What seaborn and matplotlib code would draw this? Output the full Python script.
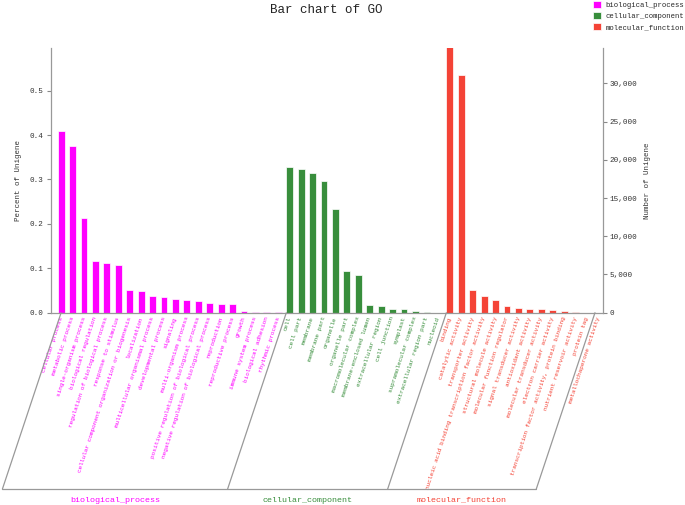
import matplotlib
matplotlib.use("Agg")
import matplotlib.pyplot as plt
import matplotlib.transforms as mtransforms
from matplotlib.ticker import FuncFormatter
import pandas as pd
import seaborn as sns

# GO terms and their share of unigenes
bp_terms = ["cellular process", "metabolic process", "single-organism process",
            "biological regulation", "regulation of biological process",
            "response to stimulus", "cellular component organization or biogenesis",
            "localization", "multicellular organismal process", "developmental process",
            "signaling", "multi-organism process",
            "positive regulation of biological process",
            "negative regulation of biological process", "reproduction",
            "reproductive process", "growth", "immune system process",
            "biological adhesion", "rhythmic process"]
bp_pct = [0.409, 0.375, 0.214, 0.117, 0.112, 0.107, 0.052, 0.0496, 0.038, 0.035,
          0.031, 0.029, 0.0256, 0.0218, 0.0188, 0.0188, 0.0038, 0.0023, 0.0009, 0.0005]

cc_terms = ["cell", "cell part", "membrane", "membrane part", "organelle",
            "organelle part", "macromolecular complex", "membrane-enclosed lumen",
            "extracellular region", "cell junction", "symplast",
            "supramolecular complex", "extracellular region part", "nucleoid"]
cc_pct = [0.329, 0.323, 0.314, 0.297, 0.234, 0.095, 0.086, 0.018, 0.0158,
          0.0075, 0.0075, 0.0045, 0.001, 0.0002]

mf_terms = ["binding", "catalytic activity", "transporter activity",
            "nucleic acid binding transcription factor activity",
            "structural molecule activity", "molecular function regulator",
            "signal transducer activity", "antioxidant activity",
            "molecular transducer activity", "electron carrier activity",
            "transcription factor activity, protein binding",
            "nutrient reservoir activity", "protein tag", "metallochaperone activity"]
mf_pct = [0.598, 0.536, 0.051, 0.0376, 0.0286, 0.015, 0.0105, 0.0075, 0.0075,
          0.006, 0.0045, 0.0015, 0.0004, 0.0003]

groups = ["biological_process", "cellular_component", "molecular_function"]
colors = ["#FF00FF", "#388E3C", "#F44336"]

df = pd.concat([
    pd.DataFrame({"term": bp_terms, "pct": bp_pct, "group": groups[0]}),
    pd.DataFrame({"term": cc_terms, "pct": cc_pct, "group": groups[1]}),
    pd.DataFrame({"term": mf_terms, "pct": mf_pct, "group": groups[2]}),
], ignore_index=True)

sns.set_style("white")
plt.rcParams["font.family"] = ["Liberation Mono", "DejaVu Sans Mono"]

fig = plt.figure(figsize=(6.85, 5.05), dpi=100)
ax = fig.add_axes([50.7 / 685, 1 - 312.7 / 505, 552 / 685, 264.7 / 505])

sns.barplot(data=df, x="term", y="pct", hue="group", palette=colors, saturation=1,
            dodge=False, width=0.6, edgecolor="#ffffff", linewidth=0.5, ax=ax)

ax.set_xlim(-0.91, len(df) - 1 + 0.375)
ax.set_ylim(0, 0.596)

# x labels coloured by group
ax.set_xticks(range(len(df)))
ax.set_xticklabels(df["term"], rotation=72, ha="right", va="center",
                   rotation_mode="anchor", fontsize=4.4)
for lab, g in zip(ax.get_xticklabels(), df["group"]):
    lab.set_color(colors[groups.index(g)])
ax.tick_params(axis="x", length=0, pad=3)
ax.set_xlabel("")

ax.set_yticks([0, 0.1, 0.2, 0.3, 0.4, 0.5])
ax.yaxis.set_major_formatter(FuncFormatter(lambda v, p: f"{v:.1f}"))
ax.tick_params(axis="y", left=True, length=3, width=0.8, color="#888888",
               labelsize=5.5, labelcolor="#333333", pad=2)
ax.set_ylabel("Percent of Unigene", fontsize=5.4, color="#333333")
ax.yaxis.set_label_coords(-0.052, 0.5)

for s in ["top", "right"]:
    ax.spines[s].set_visible(False)
for s in ["left", "bottom"]:
    ax.spines[s].set_color("#999999")
    ax.spines[s].set_linewidth(0.9)

# right axis with counts
ax2 = ax.twinx()
ax2.set_ylim(0, 34620)
ax2.set_yticks(range(0, 30001, 5000))
ax2.yaxis.set_major_formatter(FuncFormatter(lambda v, p: f"{int(v):,}"))
ax2.tick_params(axis="y", right=True, length=3, width=0.8, color="#888888",
                labelsize=5.5, labelcolor="#333333", pad=2)
ax2.set_ylabel("Number of Unigene", fontsize=5.4, color="#333333", rotation=90)
ax2.yaxis.set_label_coords(1.075, 0.5)
for s in ["top", "left", "bottom"]:
    ax2.spines[s].set_visible(False)
ax2.spines["right"].set_color("#999999")
ax2.spines["right"].set_linewidth(0.9)
ax2.grid(False)

# slanted group frame under the labels
trans = mtransforms.blended_transform_factory(ax.transData, ax.transAxes)
dx = -57.5 / 11.2
ybot = -176.3 / 264.7
n1, n2 = len(bp_terms), len(bp_terms) + len(cc_terms)
edges = [0, n1 - 0.3, n2 - 0.3, len(df) - 1.3]
for b in edges:
    ax.plot([b, b + dx], [0, ybot], transform=trans, clip_on=False,
            color="#999999", lw=0.9)
ax.plot([edges[0] + dx, edges[-1] + dx], [ybot, ybot], transform=trans,
        clip_on=False, color="#999999", lw=0.9)
for i, g in enumerate(groups):
    xm = (edges[i] + edges[i + 1]) / 2 + dx
    ax.text(xm, ybot - 0.042, g, transform=trans, ha="center", va="center",
            fontsize=6, color=colors[i])

fig.text(326.7 / 685, 1 - 10 / 505, "Bar chart of GO", ha="center", va="center",
         fontsize=9, color="#222222")

handles, labels = ax.get_legend_handles_labels()
if ax.get_legend() is not None:
    ax.get_legend().remove()
fig.legend(handles, labels, loc="upper left", bbox_to_anchor=(593 / 685, 1 - 1 / 505),
           frameon=False, fontsize=5.2, handlelength=1.1, handleheight=1.1,
           handletextpad=0.6, labelspacing=0.45, borderpad=0, borderaxespad=0)

fig.savefig("out.png", dpi=100)
